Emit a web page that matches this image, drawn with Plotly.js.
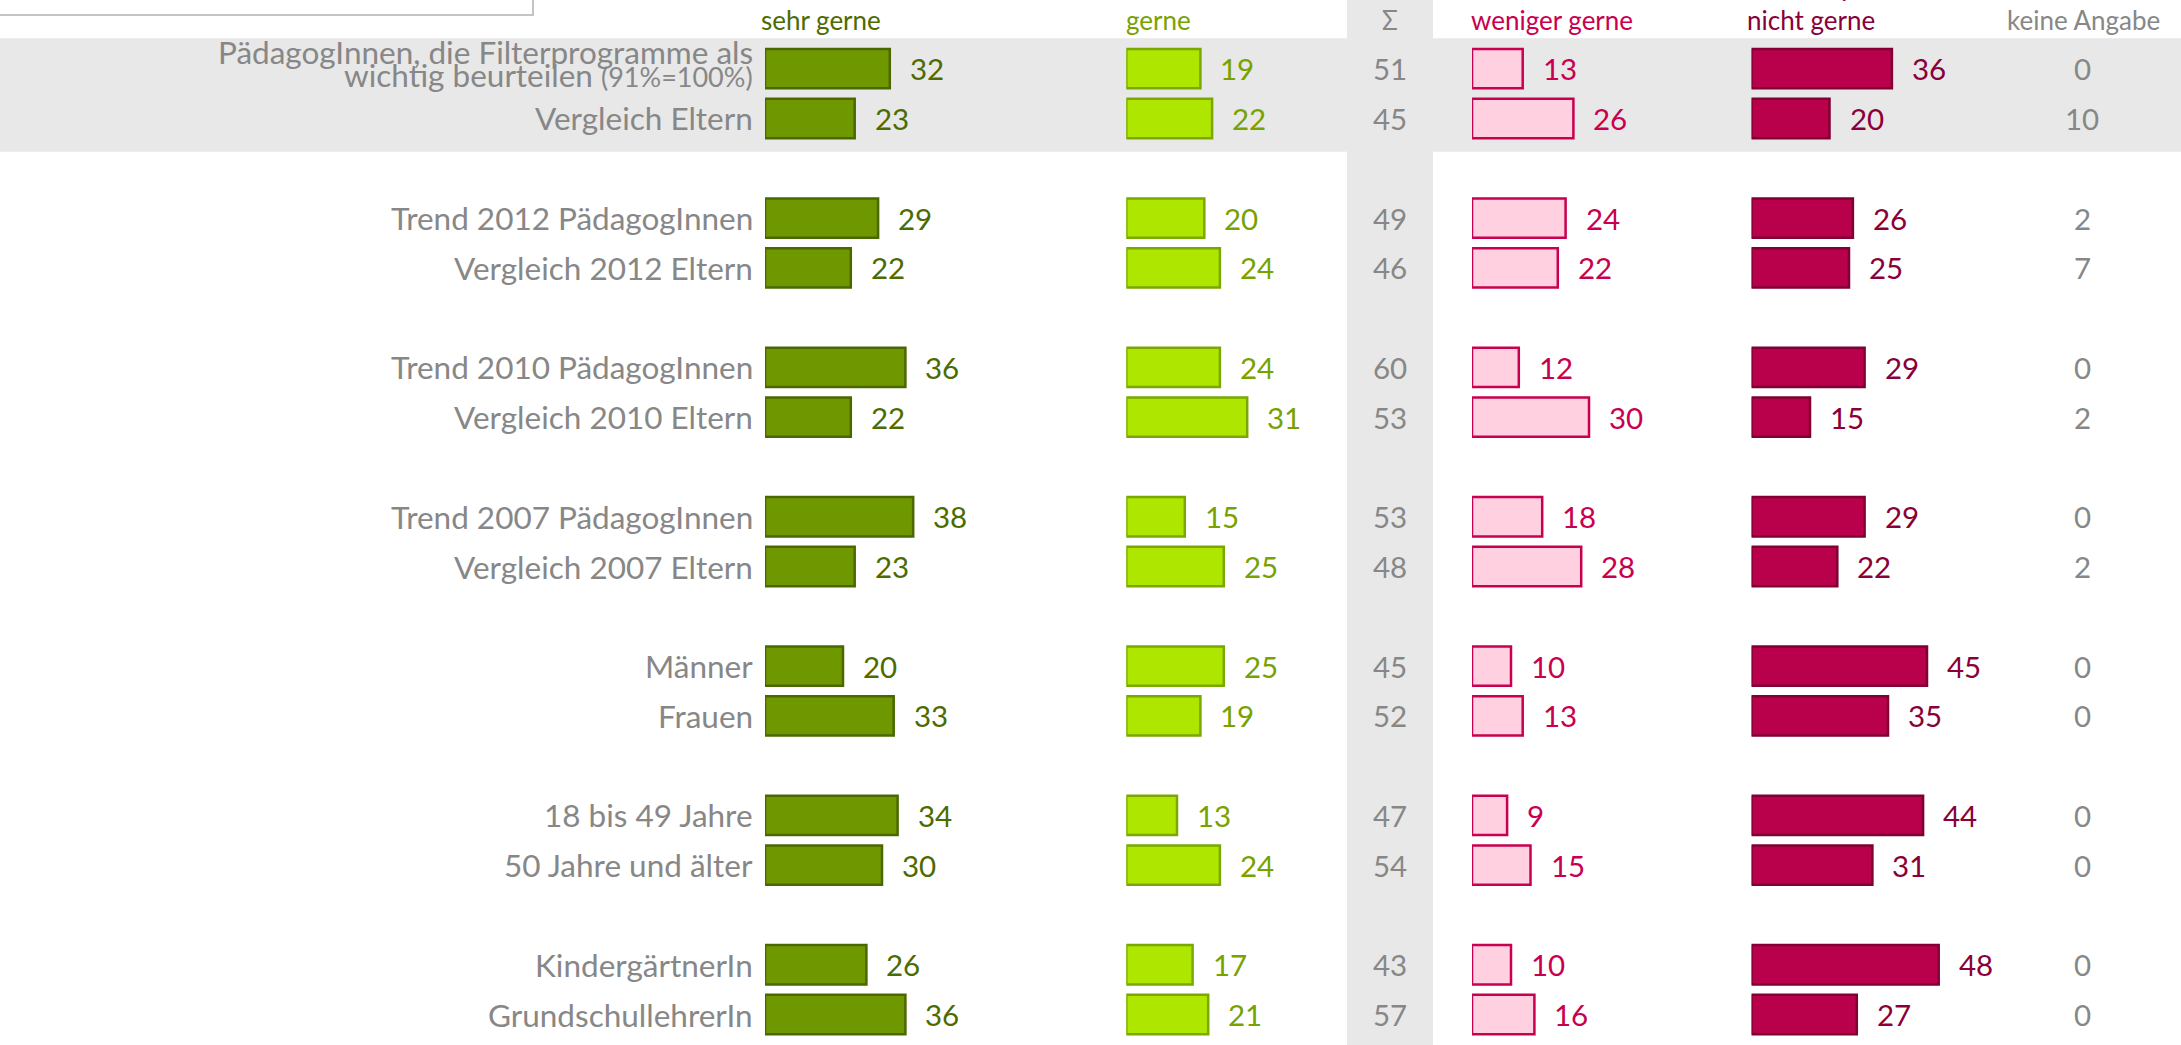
<!DOCTYPE html>
<html><head><meta charset="utf-8">
<script src="https://cdn.plot.ly/plotly-3.0.1.min.js"></script>
<style>html,body{margin:0;padding:0;background:#fff;overflow:hidden}</style>
</head><body>
<div id="chart" style="width:2181px;height:1045px"></div>
<script>
// ---------- DATA ----------
const categories = [
  "PädagogInnen, die Filterprogramme als\nwichtig beurteilen (91%=100%)",
  "Vergleich Eltern",
  "Trend 2012 PädagogInnen",
  "Vergleich 2012 Eltern",
  "Trend 2010 PädagogInnen",
  "Vergleich 2010 Eltern",
  "Trend 2007 PädagogInnen",
  "Vergleich 2007 Eltern",
  "Männer",
  "Frauen",
  "18 bis 49 Jahre",
  "50 Jahre und älter",
  "KindergärtnerIn",
  "GrundschullehrerIn"
];
const groupOf      = [0,0,1,1,2,2,3,3,4,4,5,5,6,6];
const sehrGerne    = [32,23,29,22,36,22,38,23,20,33,34,30,26,36];
const gerne        = [19,22,20,24,24,31,15,25,25,19,13,24,17,21];
const summe        = [51,45,49,46,60,53,53,48,45,52,47,54,43,57];
const wenigerGerne = [13,26,24,22,12,30,18,28,10,13, 9,15,10,16];
const nichtGerne   = [36,20,26,25,29,15,29,22,45,35,44,31,48,27];
const keineAngabe  = [ 0,10, 2, 7, 0, 2, 0, 2, 0, 0, 0, 0, 0, 0];
const headerLabels = ["sehr gerne","gerne","Σ","weniger gerne","nicht gerne","keine Angabe"];
const headerTopLines = ["","","","","überhaupt","weiß nicht,"];

// ---------- LAYOUT CONSTANTS ----------
const W = 2181, H = 1045;
const FONT = "Lato, 'Open Sans', sans-serif";
const PXU = 3.9;                 // pixels per percent
const SLOT0 = 68.7, PITCH = 49.78;
const colZero = [765, 1126.3, 1472, 1751.5];
const colEnd  = [1110, 1340, 1740, 2181];
const sumX = 1390, kaX = 2082;
const fills = ["#6f9700","#aee600","#ffd0e0","#b9004a"];
const lines = ["#4b6800","#7aa800","#c8004f","#800033"];
const txtCol = ["#4d6b00","#78a200","#c8004f","#8a0038"];
const gray = "#878787";

// row positions (slots): 3 slots per group
const ypos = categories.map((c,i) => groupOf[i]*3 + (i>0 && groupOf[i-1]===groupOf[i] ? 1 : 0));

const series = [sehrGerne, gerne, wenigerGerne, nichtGerne];
const axNames = ["x","x2","x3","x4"];

const traces = series.map((vals, c) => ({
  type: "bar", orientation: "h",
  x: vals, y: ypos,
  xaxis: axNames[c], yaxis: "y",
  width: 0.79,
  marker: {color: fills[c], line: {color: lines[c], width: 2.5}},
  hoverinfo: "skip", showlegend: false
}));

const layout = {
  width: W, height: H,
  margin: {l:0, r:0, t:0, b:0},
  paper_bgcolor: "#ffffff", plot_bgcolor: "rgba(0,0,0,0)",
  barmode: "overlay",
  font: {family: FONT},
  yaxis: {domain:[0,1], range:[(H-SLOT0)/PITCH, -SLOT0/PITCH], visible:false, fixedrange:true},
  annotations: [], shapes: []
};
axNames.forEach((a, c) => {
  const key = c === 0 ? "xaxis" : "xaxis" + (c+1);
  layout[key] = {
    domain: [colZero[c]/W, colEnd[c]/W],
    range: [0, (colEnd[c]-colZero[c])/PXU],
    visible: false, fixedrange: true, anchor: "y"
  };
});

// background shapes
layout.shapes.push({type:"rect", layer:"below", xref:"paper", yref:"y",
  x0:0, x1:1, y0:-0.61, y1:1.67, fillcolor:"#e8e8e8", line:{width:0}});
layout.shapes.push({type:"rect", layer:"below", xref:"paper", yref:"paper",
  x0:1347/W, x1:1433/W, y0:0, y1:1, fillcolor:"#e8e8e8", line:{width:0}});
layout.shapes.push({type:"rect", layer:"above", xref:"paper", yref:"paper",
  x0:-0.01, x1:533/W, y0:1-15/H, y1:1.05, fillcolor:"#ffffff", line:{color:"#c4c4c4", width:2}});

const ann = layout.annotations;
const base = {showarrow:false, borderpad:0, borderwidth:0};

// row labels
categories.forEach((lab, i) => {
  const parts = lab.split("\n");
  parts.forEach((p, k) => {
    const txt = p.replace(/(\(.*\))/, "<span style=\"font-size:27px\">$1</span>");
    ann.push(Object.assign({}, base, {
      xref:"x", yref:"y", x:0, y:ypos[i], xanchor:"right", yanchor:"middle",
      xshift:-12, yshift: parts.length>1 ? ((parts.length-1)/2 - k)*23 + 5 : 0,
      text: txt, font:{family:FONT, size:31.5, color:gray}
    }));
  });
});

// value labels
series.forEach((vals, c) => {
  vals.forEach((v, i) => {
    ann.push(Object.assign({}, base, {
      xref: axNames[c], yref:"y", x:v, y:ypos[i], xanchor:"left", yanchor:"middle",
      xshift: 20, text: String(v), font:{family:FONT, size:29.5, color:txtCol[c]}
    }));
  });
});
summe.forEach((v,i) => ann.push(Object.assign({}, base, {
  xref:"paper", yref:"y", x:sumX/W, y:ypos[i], xanchor:"center", yanchor:"middle",
  text:String(v), font:{family:FONT, size:29.5, color:gray}})));
keineAngabe.forEach((v,i) => ann.push(Object.assign({}, base, {
  xref:"paper", yref:"y", x:kaX/W, y:ypos[i], xanchor:"center", yanchor:"middle",
  text:String(v), font:{family:FONT, size:29.5, color:gray}})));

// headers
const hdrX = [761, 1126, 1390, 1471, 1747, 2160];
const hdrAnchor = ["left","left","center","left","left","right"];
const hdrCol = [txtCol[0], txtCol[1], gray, txtCol[2], txtCol[3], gray];
headerLabels.forEach((h, c) => {
  ann.push(Object.assign({}, base, {
    xref:"paper", yref:"y", x:hdrX[c]/W, y:-1, xanchor:hdrAnchor[c], yanchor:"middle",
    yshift:-1, text:h, font:{family:FONT, size:26, color:hdrCol[c]}}));
  if (headerTopLines[c]) ann.push(Object.assign({}, base, {
    xref:"paper", yref:"y", x:hdrX[c]/W, y:-1, xanchor:hdrAnchor[c], yanchor:"middle",
    yshift:33, text:headerTopLines[c], font:{family:FONT, size:26, color:hdrCol[c]}}));
});

Plotly.newPlot("chart", traces, layout, {staticPlot:true, displayModeBar:false});
</script>
</body></html>
